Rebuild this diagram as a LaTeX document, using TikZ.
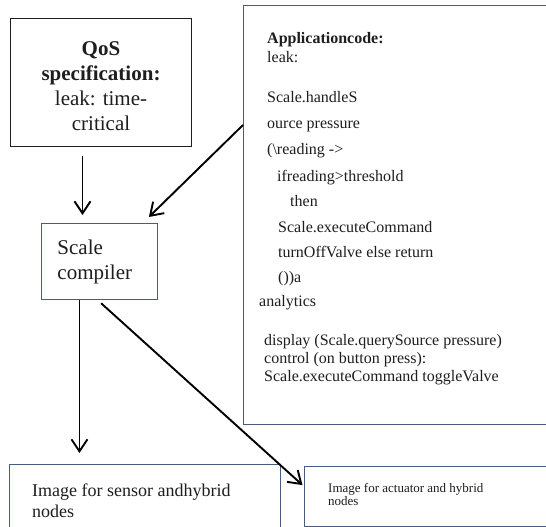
\documentclass[tikz,border=0pt]{standalone}
\usepackage{fontspec}
\setmainfont{Liberation Serif}
\usepackage{xcolor}
\usepackage{tikz}
\usetikzlibrary{arrows.meta, positioning, calc}
\definecolor{boxline}{RGB}{72,92,128}
\definecolor{inkgrey}{RGB}{30,30,30}
\begin{document}
\begin{tikzpicture}[x=1pt, y=-1pt,
		specbox/.style={draw=inkgrey, line width=1pt, inner sep=0pt, align=center, text=inkgrey},
		bluebox/.style={draw=boxline, line width=0.9pt, inner sep=0pt, text=inkgrey},
		arr/.style={-{Straight Barb[length=12pt, width=16pt]}, line width=1.9pt}]
				\useasboundingbox (0,0) rectangle (546,527);
				\clip (0,0) rectangle (546,527);
				\fill[white] (0,0) rectangle (546,527);
				% boxes
				\node[specbox, anchor=north west, minimum width=181pt, minimum height=128pt,
					font=\fontsize{21pt}{25pt}\selectfont] (qos) at (10,18)
					{\rule{0pt}{21pt}\textbf{QoS}\\ \textbf{specification:}\\ leak: time-\\ critical};
				\node[bluebox, anchor=north west, minimum width=330pt, minimum height=419pt] (app) at (243,5) {};
				\node[anchor=north west, inner sep=0pt, align=left, text=inkgrey,
					font=\fontsize{16pt}{19pt}\selectfont] (code) at (259,32)
					{\hspace*{8pt}\textbf{Applicationcode:}\\
					\hspace*{8pt}leak:\\[21pt]
					\hspace*{8pt}Scale.handleS\\[7pt]
					\hspace*{8pt}ource pressure\\[7pt]
					\hspace*{8pt}(\textbackslash reading -{}>\\[8pt]
					\hspace*{18pt}ifreading>threshold\\[6pt]
					\hspace*{31pt}then\\[7pt]
					\hspace*{19pt}Scale.executeCommand\\[6pt]
					\hspace*{19pt}turnOffValve else return\\[6pt]
					\hspace*{19pt}())a\\[5pt]
					analytics\\[20pt]
					\hspace*{5pt}display (Scale.querySource pressure)\\[-1pt]
					\hspace*{5pt}control (on button press):\\[-1pt]
					\hspace*{5pt}Scale.executeCommand toggleValve};
				\node[bluebox, anchor=north west, minimum width=116pt, minimum height=76pt,
					text width=84pt, align=left, font=\fontsize{21pt}{25pt}\selectfont] (scale) at (41,223)
					{Scale\\ compiler};
				\node[bluebox, anchor=north west, minimum width=271pt, minimum height=80pt] (sensor) at (9,464) {};
				\node[anchor=north west, inner sep=0pt, align=left, text=inkgrey,
					font=\fontsize{18pt}{21pt}\selectfont] (sensortext) at (32,484)
					{Image for sensor andhybrid\\ nodes};
				\node[bluebox, anchor=north west, minimum width=260pt, minimum height=60pt] (actuator) at (304,466) {};
				\node[anchor=north west, inner sep=0pt, align=left, text=inkgrey,
					font=\fontsize{13pt}{13.5pt}\selectfont] (actuatortext) at (328,483)
					{Image for actuator and hybrid\\ nodes};
				% connectors
				\coordinate (q1) at ([xshift=-18.5pt]qos.south);
				\draw[arr, shorten <=9pt, shorten >=8pt] (q1) -- (q1 |- scale.north);
				\draw[arr] ([yshift=-120pt]app.north west) -- ([xshift=-9pt, yshift=6pt]scale.north east);
				\coordinate (s1) at ([xshift=-20pt]scale.south);
				\draw[arr, shorten >=11pt] (s1) -- (s1 |- sensor.north);
				\draw[arr, shorten <=5pt, shorten >=2pt] ([xshift=-2pt]scale.south) -- ([yshift=10pt]actuator.west);
			\end{tikzpicture}
\end{document}
